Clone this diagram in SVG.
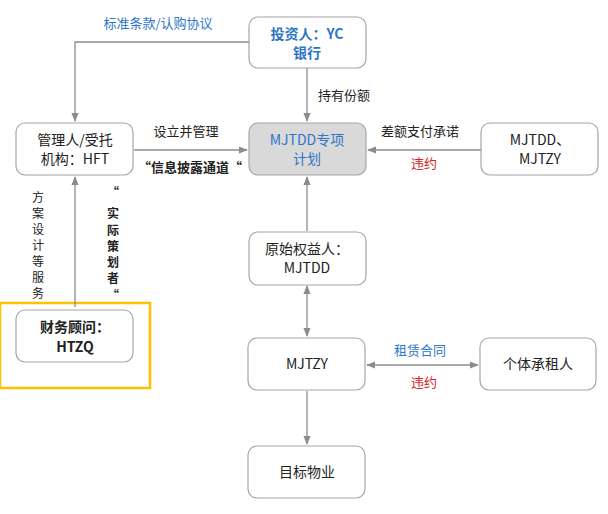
<svg xmlns="http://www.w3.org/2000/svg" width="608" height="514" viewBox="0 0 608 514">
<style>
text{font-family:"Microsoft YaHei","Noto Sans CJK SC",sans-serif;font-size:13px;fill:#222;text-anchor:middle}
.n{fill:#fff;stroke:#a6a6a6;stroke-width:1.2}
.t{font-size:14px}
.v{font-size:12px}
.c{stroke:#8c8c8c;stroke-width:1.3;fill:none}
.b{fill:#2e75c8}.r{fill:#d62020}.bd{font-weight:bold}
.l{text-anchor:start}
</style>
<defs><marker id="a" viewBox="0 0 10 10" refX="9" refY="5" markerWidth="7" markerHeight="7" orient="auto-start-reverse"><path d="M0,1 L10,5 L0,9z" fill="#8c8c8c"/></marker></defs>
<rect x="0" y="303" width="150" height="85" fill="none" stroke="#ffc000" stroke-width="2.5"/>
<g id="connectors">
<path class="c" d="M249,42 H75 V121" marker-end="url(#a)"/>
<path class="c" d="M307,68 V121" marker-end="url(#a)"/>
<path class="c" d="M134,150 H247" marker-end="url(#a)"/>
<path class="c" d="M481,150 H368" marker-end="url(#a)"/>
<path class="c" d="M307,231 V177" marker-end="url(#a)"/>
<path class="c" d="M307,286 V336" marker-start="url(#a)" marker-end="url(#a)"/>
<path class="c" d="M367,365 H478" marker-start="url(#a)" marker-end="url(#a)"/>
<path class="c" d="M307,391 V444" marker-end="url(#a)"/>
<path class="c" d="M75,307 V177" marker-end="url(#a)"/>
</g>
<text x="158" y="28" class="b">标准条款/认购协议</text>
<text x="318" y="100" class="l">持有份额</text>
<text x="186" y="136">设立并管理</text>
<text x="190" y="172" class="bd">“信息披露通道“</text>
<text x="420" y="136">差额支付承诺</text>
<text x="424" y="168" class="r">违约</text>
<text x="420" y="355" class="b">租赁合同</text>
<text x="424" y="387" class="r">违约</text>
<g class="v"><text class="v" x="38" y="202">方</text><text class="v" x="38" y="218">案</text><text class="v" x="38" y="234">设</text><text class="v" x="38" y="250">计</text><text class="v" x="38" y="266">等</text><text class="v" x="38" y="282">服</text><text class="v" x="38" y="298">务</text></g>
<g><text x="113" y="197" class="v bd">“</text><text x="113" y="218" class="v bd">实</text><text x="113" y="235" class="v bd">际</text><text x="113" y="251" class="v bd">策</text><text x="113" y="267" class="v bd">划</text><text x="113" y="283" class="v bd">者</text><text x="113" y="300" class="v bd">“</text></g>
<g id="yc"><rect class="n" x="249" y="17" width="117" height="51" rx="9"/><text x="307" y="39" class="t b bd">投资人：YC</text><text x="307" y="58" class="t b bd">银行</text></g>
<g id="hft"><rect class="n" x="16" y="123" width="117" height="52" rx="9"/><text x="75" y="145" class="t">管理人/受托</text><text x="75" y="164" class="t">机构：HFT</text></g>
<g id="plan"><rect class="n" x="249" y="123" width="117" height="52" rx="9" style="fill:#d9d9d9"/><text x="307" y="145" class="t b">MJTDD专项</text><text x="307" y="164" class="t b">计划</text></g>
<g id="right"><rect class="n" x="481" y="123" width="117" height="52" rx="9"/><text x="540" y="145" class="t">MJTDD、</text><text x="540" y="164" class="t">MJTZY</text></g>
<g id="orig"><rect class="n" x="249" y="232" width="117" height="53" rx="9"/><text x="307" y="254" class="t">原始权益人：</text><text x="307" y="273" class="t">MJTDD</text></g>
<g id="htzq"><rect class="n" x="16" y="310" width="117" height="52" rx="9"/><text x="75" y="332" class="t bd">财务顾问：</text><text x="75" y="352" class="t bd">HTZQ</text></g>
<g id="mjtzy"><rect class="n" x="248" y="338" width="117" height="52" rx="9"/><text x="307" y="369" class="t">MJTZY</text></g>
<g id="tenant"><rect class="n" x="480" y="338" width="116" height="52" rx="9"/><text x="538" y="369" class="t">个体承租人</text></g>
<g id="prop"><rect class="n" x="248" y="446" width="117" height="52" rx="9"/><text x="307" y="477" class="t">目标物业</text></g>
</svg>
